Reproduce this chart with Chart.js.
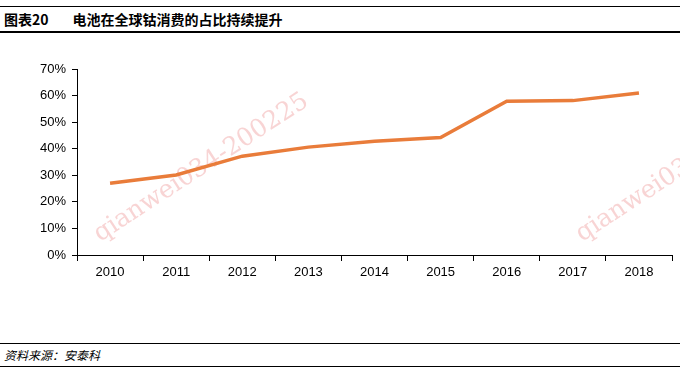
<!DOCTYPE html>
<html>
<head>
<meta charset="utf-8">
<script src="https://cdn.jsdelivr.net/npm/chart.js@4/dist/chart.umd.min.js"></script>
<style>
  body { margin: 0; background: #fff; }
  #wrap { position: relative; width: 680px; height: 372px; overflow: hidden; font-family: "Liberation Sans", Arial, sans-serif; }
  .rule { position: absolute; left: 0; width: 680px; background: #000; }
  #title { position: absolute; left: 4px; top: 9px; font: bold 14px "Noto Sans CJK SC", sans-serif; color: #000; white-space: nowrap; }
  #title .num { margin-right: 24px; }
  #source { position: absolute; left: 4px; top: 346px; font: italic 12px "Noto Sans CJK SC", sans-serif; color: #000; }
  #chartBox { position: absolute; left: 0; top: 50px; width: 680px; height: 240px; }
</style>
</head>
<body>
<div id="wrap">
  <div class="rule" style="top:6px;height:1px;"></div>
  <div id="title"><span class="num">图表20</span>电池在全球钴消费的占比持续提升</div>
  <div class="rule" style="top:31px;height:2px;"></div>
  <div id="chartBox"><canvas id="chart"></canvas></div>
  <div class="rule" style="top:343px;height:1px;"></div>
  <div id="source">资料来源：安泰科</div>
  <div class="rule" style="top:366px;height:1px;"></div>
</div>
<script>
const years = ['2010', '2011', '2012', '2013', '2014', '2015', '2016', '2017', '2018'];
const batteryShare = [27.0, 30.1, 37.2, 40.6, 42.8, 44.2, 57.9, 58.1, 61.0];
const yTicks = [0, 10, 20, 30, 40, 50, 60, 70];

// faint watermark like the source picture, under the line
function stamp(c, x, y) {
    c.save();
    c.fillStyle = 'rgba(240, 160, 160, 0.45)';
    c.font = '25px "DejaVu Serif", serif';
    c.translate(x, y);
    c.rotate(-0.58);
    c.fillText('qianwei034-200225', 0, 0);
    c.restore();
}
const watermark = {
    id: 'watermark',
    beforeDatasetsDraw(chart) {
        stamp(chart.ctx, 100, 192);
        stamp(chart.ctx, 582, 192);
    }
};

const ctx = document.getElementById('chart').getContext('2d');
const chart = new Chart(ctx, {
    type: 'line',
    data: {
        labels: years,
        datasets: [{
            label: '电池占比',
            data: batteryShare,
            borderColor: '#E97C3A',
            backgroundColor: '#E97C3A',
            borderWidth: 3.5,
            pointRadius: 0,
            tension: 0
        }]
    },
    options: {
        responsive: true,
        maintainAspectRatio: false,
        animation: false,
        layout: { padding: { top: 19, right: 8, left: 0, bottom: 0 } },
        plugins: {
            legend: { display: false },
            tooltip: { enabled: false }
        },
        scales: {
            x: {
                offset: true,
                grid: { offset: true, drawOnChartArea: false, tickLength: 6, color: '#000' },
                border: { color: '#000', width: 1 },
                ticks: { color: '#000', font: { family: 'Liberation Sans', size: 13 }, padding: 4, maxRotation: 0 },
                afterFit: s => { s.height = 35; }
            },
            y: {
                min: 0,
                max: 70,
                afterBuildTicks: s => { s.ticks = yTicks.map(v => ({ value: v })); },
                grid: { drawOnChartArea: false, tickLength: 5, color: '#000' },
                border: { color: '#000', width: 1 },
                ticks: {
                    color: '#000',
                    font: { family: 'Liberation Sans', size: 13 },
                    padding: 6,
                    callback: v => v + '%'
                },
                afterFit: s => { s.width = 77; }
            }
        }
    },
    plugins: [watermark]
});
</script>
</body>
</html>
